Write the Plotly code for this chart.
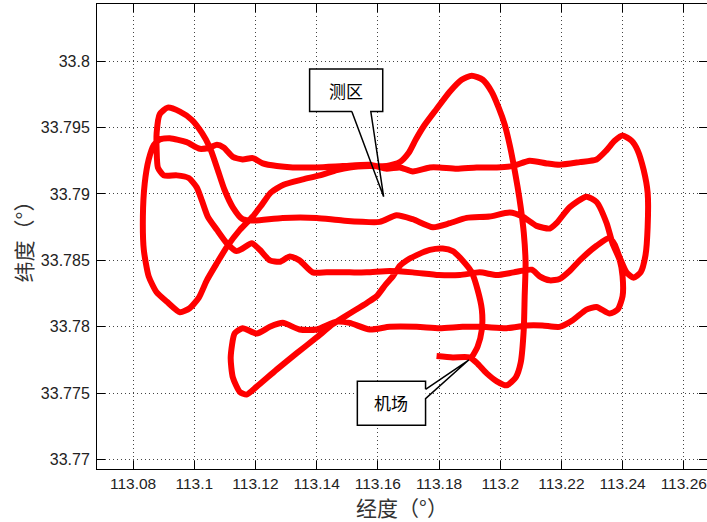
import plotly.graph_objects as go

# ---- flight track (lon, lat), split in legs ----
climb_lon = [113.1792, 113.1845, 113.1900, 113.1923, 113.1956, 113.1989, 113.2021, 113.2051, 113.2067,
             113.2077, 113.2080, 113.2083, 113.2077, 113.2067, 113.2057, 113.2044, 113.2031, 113.2015,
             113.1995, 113.1972, 113.1943, 113.1907, 113.1874, 113.1835, 113.1792, 113.1750, 113.1724,
             113.1701, 113.1672]
climb_lat = [33.7778, 33.7777, 33.7777, 33.7773, 33.7765, 33.7759, 33.7756, 33.7762, 33.7773,
             33.7798, 33.7823, 33.7848, 33.7871, 33.7890, 33.7905, 33.7922, 33.7937, 33.7952,
             33.7965, 33.7977, 33.7986, 33.7989, 33.7986, 33.7977, 33.7964, 33.7951, 33.7941,
             33.7931, 33.7924]

ferry_lon = [113.1629, 113.1574, 113.1508, 113.1466, 113.1410, 113.1355, 113.1292, 113.1250, 113.1221,
             113.1191, 113.1149, 113.1106, 113.1074, 113.1041, 113.1015, 113.0985, 113.0953, 113.0910,
             113.0877, 113.0851, 113.0835, 113.0832, 113.0838, 113.0851, 113.0868, 113.0887]
ferry_lat = [33.7921, 33.7921, 33.7920, 33.7918, 33.7914, 33.7911, 33.7907, 33.7901, 33.7892,
             33.7883, 33.7873, 33.7860, 33.7848, 33.7835, 33.7822, 33.7814, 33.7811, 33.7819,
             33.7826, 33.7838, 33.7858, 33.7883, 33.7908, 33.7926, 33.7937, 33.7941]

line_a_lon = [113.0920, 113.0975, 113.1018, 113.1051, 113.1074, 113.1096, 113.1126, 113.1158, 113.1191,
              113.1224, 113.1270, 113.1322, 113.1400, 113.1485, 113.1574, 113.1629, 113.1672, 113.1714,
              113.1770, 113.1802, 113.1858, 113.1923, 113.1989, 113.2041, 113.2096, 113.2152, 113.2194,
              113.2260, 113.2315]
line_a_lat = [33.7942, 33.7939, 33.7934, 33.7935, 33.7937, 33.7935, 33.7928, 33.7926, 33.7927,
              33.7923, 33.7921, 33.7920, 33.7920, 33.7921, 33.7922, 33.7919, 33.7920, 33.7917,
              33.7920, 33.7920, 33.7919, 33.7920, 33.7920, 33.7921, 33.7925, 33.7923, 33.7922,
              33.7924, 33.7926]

turn_east_lon = [113.2348, 113.2374, 113.2400, 113.2430, 113.2449, 113.2469, 113.2482, 113.2482,
                 113.2475, 113.2459, 113.2436, 113.2413, 113.2391, 113.2374, 113.2358]
turn_east_lat = [33.7933, 33.7940, 33.7944, 33.7940, 33.7933, 33.7918, 33.7901, 33.7875,
                 33.7854, 33.7841, 33.7837, 33.7841, 33.7852, 33.7862, 33.7867]

line_c_lon = [113.2315, 113.2260, 113.2227, 113.2194, 113.2162, 113.2129, 113.2103, 113.2044, 113.1989,
              113.1933, 113.1868, 113.1799, 113.1714, 113.1639, 113.1564, 113.1508, 113.1433, 113.1387,
              113.1344, 113.1312, 113.1280, 113.1247, 113.1214, 113.1188, 113.1158, 113.1138, 113.1106,
              113.1074, 113.1044, 113.1025, 113.1008, 113.0982, 113.0943, 113.0900]
line_c_lat = [33.7861, 33.7850, 33.7842, 33.7836, 33.7835, 33.7838, 33.7843, 33.7841, 33.7839,
              33.7841, 33.7839, 33.7839, 33.7841, 33.7842, 33.7841, 33.7841, 33.7841, 33.7841,
              33.7850, 33.7853, 33.7849, 33.7850, 33.7858, 33.7863, 33.7859, 33.7857, 33.7863,
              33.7873, 33.7883, 33.7895, 33.7905, 33.7912, 33.7914, 33.7914]

turn_west_lon = [113.0881, 113.0877, 113.0877, 113.0887, 113.0913, 113.0953, 113.0991, 113.1025,
                 113.1051, 113.1074, 113.1099, 113.1126, 113.1158]
turn_west_lat = [33.7920, 33.7933, 33.7946, 33.7960, 33.7965, 33.7962, 33.7956, 33.7946,
                 33.7935, 33.7920, 33.7903, 33.7890, 33.7881]

line_b_lon = [113.1191, 113.1289, 113.1400, 113.1485, 113.1606, 113.1661, 113.1714, 113.1780, 113.1835,
              113.1890, 113.1965, 113.2031, 113.2073, 113.2119, 113.2162, 113.2184, 113.2227, 113.2282,
              113.2315, 113.2348, 113.2367, 113.2391, 113.2400, 113.2400, 113.2384, 113.2358]
line_b_lat = [33.7880, 33.7882, 33.7882, 33.7880, 33.7879, 33.7884, 33.7881, 33.7875, 33.7878,
              33.7882, 33.7883, 33.7886, 33.7883, 33.7876, 33.7874, 33.7878, 33.7890, 33.7898,
              33.7894, 33.7878, 33.7863, 33.7850, 33.7838, 33.7823, 33.7813, 33.7810]

line_d_lon = [113.2315, 113.2282, 113.2237, 113.2194, 113.2138, 113.2086, 113.2021, 113.1943, 113.1877,
              113.1802, 113.1727, 113.1639, 113.1574, 113.1508, 113.1466, 113.1400, 113.1344, 113.1289,
              113.1247, 113.1204, 113.1158, 113.1132]
line_d_lat = [33.7815, 33.7813, 33.7805, 33.7800, 33.7801, 33.7801, 33.7799, 33.7800, 33.7800,
              33.7799, 33.7800, 33.7800, 33.7798, 33.7803, 33.7804, 33.7798, 33.7798, 33.7803,
              33.7800, 33.7795, 33.7799, 33.7795]

return_lon = [113.1119, 113.1126, 113.1149, 113.1171, 113.1204, 113.1270, 113.1334, 113.1400, 113.1453,
              113.1508, 113.1564, 113.1596, 113.1626, 113.1649, 113.1672, 113.1694, 113.1727, 113.1770,
              113.1812, 113.1845, 113.1877, 113.1907, 113.1926, 113.1940, 113.1940, 113.1926, 113.1907]
return_lat = [33.7777, 33.7762, 33.7751, 33.7749, 33.7755, 33.7768, 33.7780, 33.7792, 33.7802,
              33.7810, 33.7818, 33.7823, 33.7832, 33.7838, 33.7846, 33.7850, 33.7854, 33.7858,
              33.7859, 33.7857, 33.7850, 33.7841, 33.7828, 33.7813, 33.7798, 33.7785, 33.7777]

x_ticks = [113.08, 113.10, 113.12, 113.14, 113.16, 113.18, 113.20, 113.22, 113.24, 113.26]
x_tick_text = ["113.08", "113.1", "113.12", "113.14", "113.16", "113.18", "113.2", "113.22", "113.24", "113.26"]
y_ticks = [33.770, 33.775, 33.780, 33.785, 33.790, 33.795, 33.800]
y_tick_text = ["33.77", "33.775", "33.78", "33.785", "33.79", "33.795", "33.8"]

x_title = "经度（°）"
y_title = "纬度（°）"
label_area = "测区"
label_airport = "机场"

lon = (climb_lon + ferry_lon + line_a_lon + turn_east_lon + line_c_lon + turn_west_lon
       + line_b_lon + line_d_lon + return_lon)
lat = (climb_lat + ferry_lat + line_a_lat + turn_east_lat + line_c_lat + turn_west_lat
       + line_b_lat + line_d_lat + return_lat)

fig = go.Figure()
fig.add_trace(go.Scatter(x=lon, y=lat, mode="lines",
                         line=dict(color="#ff0000", width=6, shape="spline", smoothing=0.6),
                         hoverinfo="skip", showlegend=False))

# callout boxes
def callout(x0, x1, y0, y1, outline):
    fig.add_shape(type="rect", x0=x0, x1=x1, y0=y0, y1=y1, xref="x", yref="y",
                  fillcolor="white", line=dict(width=0), layer="above")
    path = "M " + " L ".join(f"{px},{py}" for px, py in outline)
    fig.add_shape(type="path", path=path, xref="x", yref="y",
                  line=dict(color="black", width=1.5), fillcolor="rgba(0,0,0,0)", layer="above")

# 测区 box with pointer from its bottom edge
callout(113.1377, 113.1616, 33.7962, 33.7994,
        [(113.1515, 33.7962), (113.1377, 33.7962), (113.1377, 33.7994), (113.1616, 33.7994),
         (113.1616, 33.7962), (113.1577, 33.7962), (113.1619, 33.7898), (113.1515, 33.7962)])
# 机场 box with pointer from its right edge
callout(113.1533, 113.1756, 33.7726, 33.7759,
        [(113.1756, 33.7753), (113.1756, 33.7759), (113.1533, 33.7759), (113.1533, 33.7726),
         (113.1756, 33.7726), (113.1756, 33.7746), (113.1897, 33.7775), (113.1756, 33.7753)])

fig.add_annotation(x=113.1497, y=33.7978, xref="x", yref="y", text=label_area, showarrow=False,
                   font=dict(family="Noto Sans CJK SC", size=17, color="black"))
fig.add_annotation(x=113.1644, y=33.7743, xref="x", yref="y", text=label_airport, showarrow=False,
                   font=dict(family="Noto Sans CJK SC", size=17, color="black"))

axis_common = dict(showline=True, linecolor="black", linewidth=1, mirror="ticks",
                   ticks="inside", ticklen=8, tickwidth=1, tickcolor="black",
                   showgrid=True, gridcolor="#444444", gridwidth=1, griddash="1px,3px",
                   zeroline=False)

fig.update_xaxes(range=[113.0682, 113.2676], tickmode="array", tickvals=x_ticks, ticktext=x_tick_text,
                 ticklabelstandoff=0,
                 tickfont=dict(family="Liberation Sans", size=15.5, color="#222222"),
                 title=dict(text=x_title, standoff=4,
                            font=dict(family="Noto Sans CJK SC", size=21, color="#333333")),
                 **axis_common)
fig.update_yaxes(range=[33.7693, 33.8043], tickmode="array", tickvals=y_ticks, ticktext=y_tick_text,
                 ticklabelstandoff=3,
                 tickfont=dict(family="Liberation Sans", size=16, color="#222222"),
                 title=dict(text=y_title, standoff=2,
                            font=dict(family="Noto Sans CJK SC", size=21, color="#333333")),
                 **axis_common)

fig.update_layout(width=707, height=522, margin=dict(l=97, r=0, t=4, b=53),
                  paper_bgcolor="white", plot_bgcolor="white")

fig.write_html("out.html")
